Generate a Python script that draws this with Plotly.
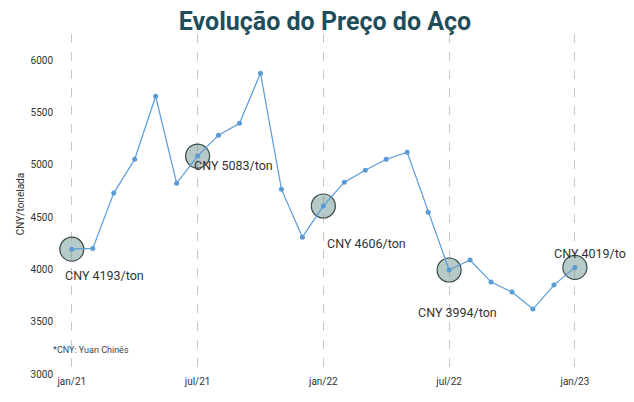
import plotly.graph_objects as go

months = list(range(25))
prices = [4193, 4200, 4729, 5053, 5655, 4824, 5083, 5283, 5397, 5875, 4767, 4308,
          4606, 4834, 4948, 5053, 5120, 4547, 3994, 4089, 3879, 3783, 3621, 3850, 4019]
tick_vals = [0, 6, 12, 18, 24]
tick_text = ["jan/21", "jul/21", "jan/22", "jul/22", "jan/23"]
hl_idx = [0, 6, 12, 18, 24]
hl_labels = ["CNY 4193/ton", "CNY 5083/ton", "CNY 4606/ton", "CNY 3994/ton", "CNY 4019/ton"]

fig = go.Figure()
fig.add_trace(go.Scatter(x=[months[i] for i in hl_idx], y=[prices[i] for i in hl_idx], mode="markers",
                         marker=dict(size=24, color="rgba(110,150,150,0.5)", line=dict(color="#3a4a4a", width=1.2)),
                         hoverinfo="skip"))
fig.add_trace(go.Scatter(x=months, y=prices, mode="lines+markers",
                         line=dict(color="#5b9bd5", width=1.2), marker=dict(size=5, color="#5b9bd5")))

shifts = {0: (-9, -26), 6: (-6, -9), 12: (2, -38), 18: (-33, -42), 24: (-23, 14)}
for i, lab in zip(hl_idx, hl_labels):
    xs, ys = shifts[i]
    fig.add_annotation(x=months[i], y=prices[i], text=lab, showarrow=False, xanchor="left", yanchor="middle",
                       xshift=xs, yshift=ys, font=dict(size=12.5, color="#333", family="Roboto"))

fig.add_annotation(xref="paper", yref="paper", x=-0.005, y=0.05, xanchor="left", showarrow=False,
                   text="*CNY: Yuan Chinês", font=dict(size=9, color="#444", family="Roboto"))

fig.update_layout(
    width=634, height=402, margin=dict(l=38, r=21, t=26, b=36),
    paper_bgcolor="white", plot_bgcolor="white", showlegend=False,
    title=dict(text="<b>Evolução do Preço do Aço</b>", x=0.5, xanchor="center", y=0.99, yanchor="top",
               font=dict(size=25, color="#1f4e5a", family="Roboto")),
    xaxis=dict(range=[-0.85, 26.2], tickvals=tick_vals, ticktext=tick_text, showgrid=True,
               gridcolor="#c8c8c8", griddash="dash", gridwidth=1, zeroline=False,
               tickfont=dict(size=10, color="#333", family="Roboto"), showline=False),
    yaxis=dict(range=[3000, 6250], tickvals=[3000, 3500, 4000, 4500, 5000, 5500, 6000], showgrid=False,
               zeroline=False, tickfont=dict(size=10, color="#333", family="Roboto"),
               title=dict(text="CNY/tonelada", font=dict(size=10, color="#333", family="Roboto"), standoff=4)),
)
fig.write_html("out.html")
